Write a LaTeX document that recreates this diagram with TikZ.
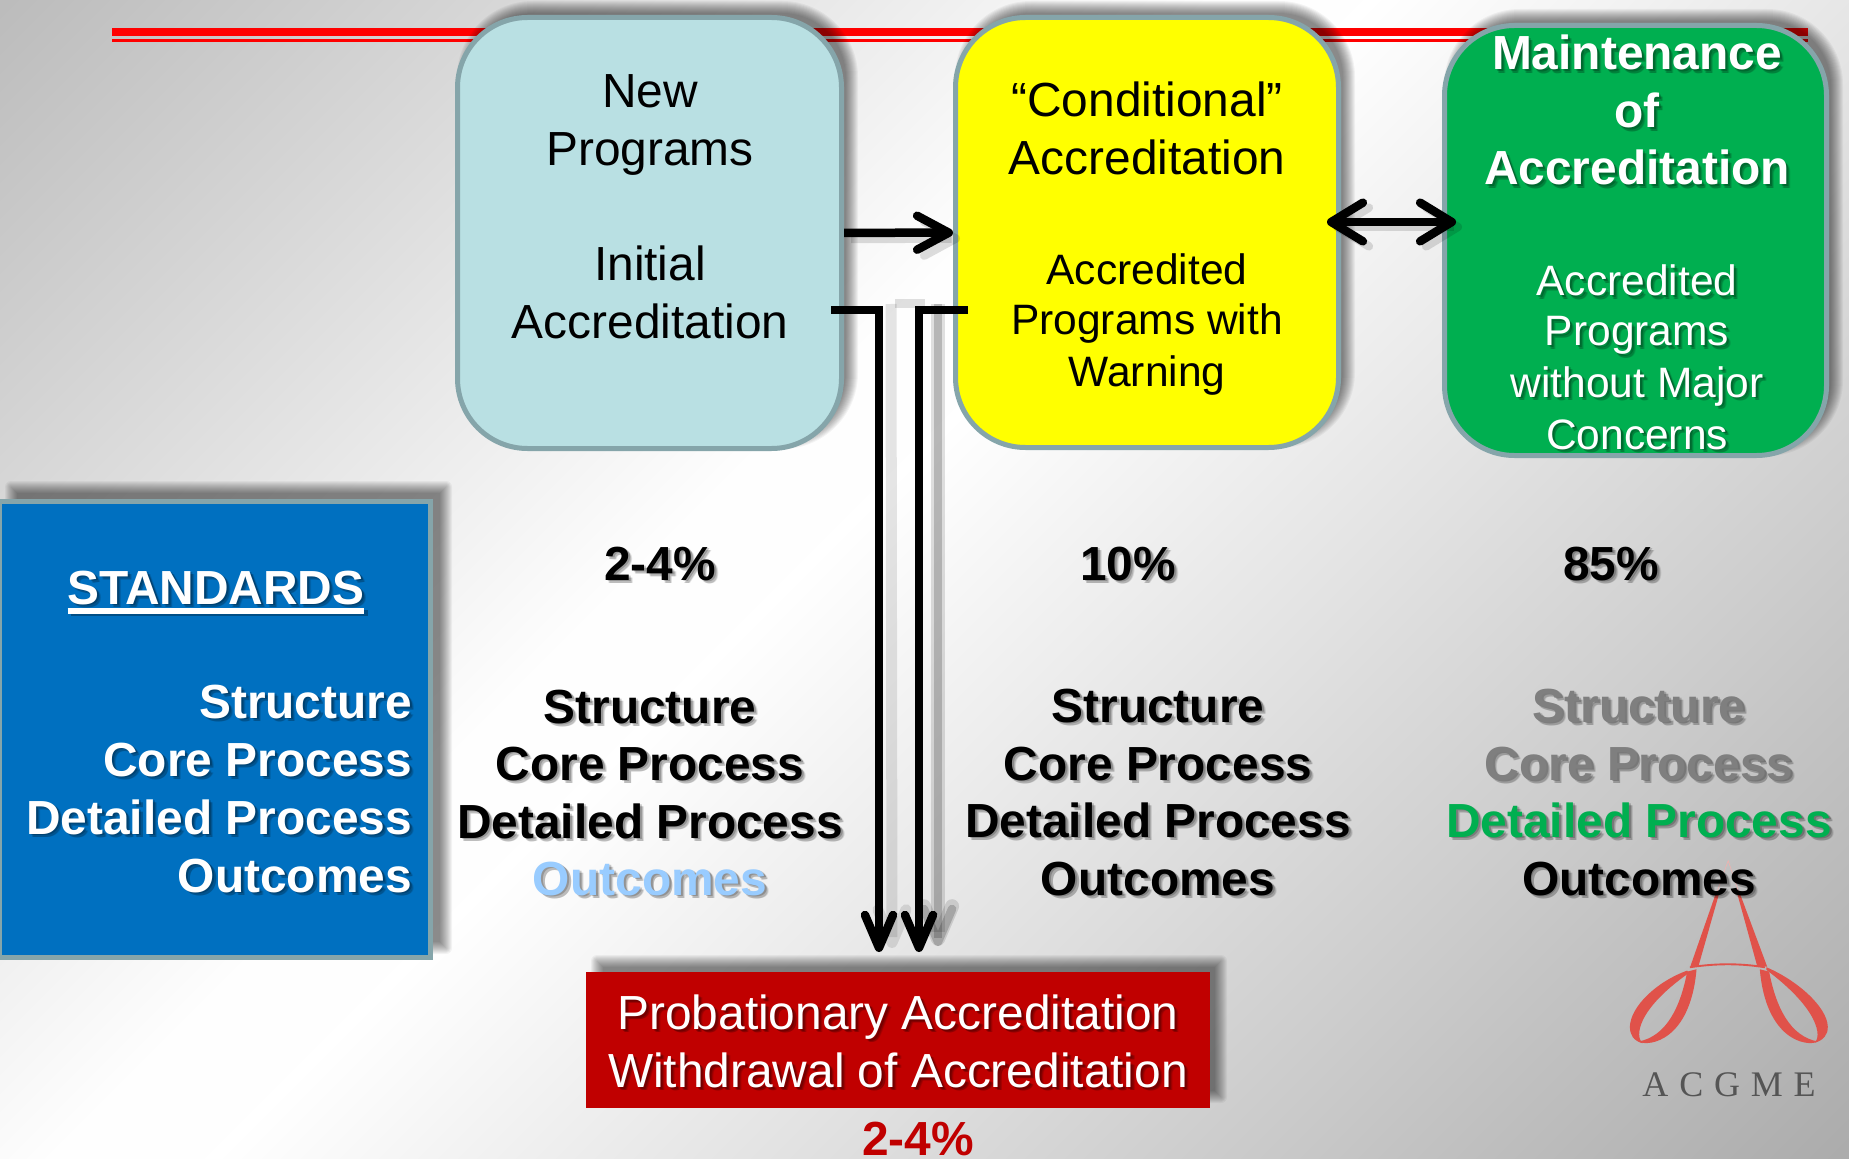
\documentclass[tikz,border=0pt]{standalone}
\usepackage{fontspec}
\setmainfont{Liberation Sans}
\newfontfamily\logofont[LetterSpace=30]{Liberation Serif}
\usetikzlibrary{arrows.meta,calc}
\definecolor{edgeC}{HTML}{85A5AA}
\definecolor{tealC}{HTML}{B9E0E3}
\definecolor{yelC}{RGB}{255,255,0}
\definecolor{greenC}{HTML}{00AF50}
\definecolor{blueC}{HTML}{0070C0}
\definecolor{redC}{HTML}{C00000}
\definecolor{paleC}{HTML}{99CCFF}
\definecolor{grayT}{HTML}{7F7F7F}
\definecolor{logoC}{HTML}{E0524A}
\definecolor{logoT}{HTML}{555555}
\definecolor{ruleC}{RGB}{255,0,0}
\newcommand{\ux}{0.03cm}
\tikzset{
  lbl/.style={inner sep=0pt,outer sep=0pt,anchor=base},
  big/.style={font=\fontsize{40.85}{48}\selectfont},
  bigb/.style={font=\fontsize{40.85}{48}\selectfont\bfseries},
  small/.style={font=\fontsize{36.3}{44}\selectfont},
  panel/.style={draw=edgeC,line width=5*\ux,inner sep=0pt},
  rbox/.style={panel,rounded corners=70*\ux},
  conn/.style={line width=8.5*\ux,line join=miter,
    -{Straight Barb[length=27pt,width=29pt,round]}},
  conndown/.style={line width=8.5*\ux,line join=miter,
    -{Straight Barb[length=28pt,width=24pt,round]}},
  conn2/.style={line width=8.5*\ux,
    {Straight Barb[length=27pt,width=33pt,round]}-{Straight Barb[length=27pt,width=33pt,round]}},
}
% one layer of a soft text shadow (offset in pt, opacity)
\newcommand{\shlayer}[3]{\rlap{\pgfsetfillopacity{#2}\kern#1pt\raisebox{-#1pt}{\textcolor{black}{#3}}\pgfsetfillopacity{1}}}
\newcommand{\shtext}[1]{\leavevmode\shlayer{3.4}{.11}{#1}\shlayer{2.6}{.16}{#1}\shlayer{1.7}{.2}{#1}#1}
% plain line of text
\newcommand{\tl}[5]{\node[lbl,#4] (#1) at (#2,#3) {#5};}
% line of text with a soft drop shadow
\newcommand{\tls}[5]{\node[lbl,#4] (#1) at (#2,#3) {\shtext{#5}};}
% soft box shadow: x1,y1,x2,y2,radius
\newcommand{\softbox}[5]{%
  \foreach \i in {-6,...,6}{%
    \pgfmathsetmacro\rr{max(0,(#5+\i))*0.8536}
    \fill[black,opacity=.045,rounded corners=\rr pt]
      ({#1-\i},{#2-\i}) rectangle ({#3+\i},{#4+\i});}}
\begin{document}
\begin{tikzpicture}[x=\ux,y=-\ux]
\useasboundingbox (0,0) rectangle (1849,1159);
% background: diagonal gradient, grey - white - grey
\begin{scope}
  \clip (0,0) rectangle (1849,1159);
  \begin{scope}[rotate around={-45:(924.5,579.5)}]
    \foreach \k in {0,...,66}{%
      \pgfmathsetmacro\lev{(188+\k)/255}
      \pgfmathsetmacro\tpos{-1063+\k/67*863}
      \definecolor{bgtmp}{gray}{\lev}
      \fill[bgtmp] ({924.5+\tpos-(\k==0)*100},-700) rectangle (2100,1900);}
    \foreach \k in {0,...,84}{%
      \pgfmathsetmacro\lev{(255-\k)/255}
      \pgfmathsetmacro\tpos{-100+\k/84*1163}
      \definecolor{bgtmp}{gray}{\lev}
      \fill[bgtmp] ({924.5+\tpos},-700) rectangle (2100,1900);}
  \end{scope}
\end{scope}
% red rule
\fill[ruleC] (112,28) rectangle (1808,36);
\fill[ruleC] (112,39) rectangle (1808,42);
% shadows of the boxes
\softbox{463}{7}{852}{443}{70}
\softbox{961}{7}{1349}{442}{70}
\softbox{1450}{15}{1837}{450}{70}
\softbox{11}{487}{446}{948}{0}
\softbox{597}{961}{1221}{1097}{0}
% logo
\begin{scope}[shift={(1400,850)},x=0.01cm,y=-0.01cm]
  \draw[logoC!45!white,line width=.5pt] (950,130) -- (985,32) -- (1018,130);
  \fill[logoC] (948,130) -- (872,348) -- (896,348) -- (958,130) -- cycle;
  \fill[logoC] (1012,130) -- (1072,348) -- (1102,350) -- (1020,130) -- cycle;
  \fill[logoC] (862,365) .. controls (842,470) and (800,560) .. (715,575)
     .. controls (750,592) and (872,570) .. (890,358) -- cycle;
  \fill[logoC] (862,362) .. controls (770,395) and (692,470) .. (690,530)
     .. controls (690,555) and (700,572) .. (728,580)
     .. controls (705,560) and (710,480) .. (866,370) -- cycle;
  \fill[logoC] (1108,365) .. controls (1128,470) and (1170,560) .. (1255,575)
     .. controls (1220,592) and (1098,570) .. (1080,358) -- cycle;
  \fill[logoC] (1100,352) .. controls (1190,390) and (1282,470) .. (1284,530)
     .. controls (1285,555) and (1270,572) .. (1245,578)
     .. controls (1265,560) and (1260,480) .. (1100,360) -- cycle;
  \draw[logoC,line width=1.6pt] (870,352) .. controls (950,340) and (1020,340) .. (1095,352);
\end{scope}
\node[lbl,anchor=base,font=\fontsize{30.7}{36}\logofont,text=logoT] (logotext) at (1729,1096) {ACGME};
% panels
\node[rbox,fill=tealC,minimum width=384*\ux,minimum height=431*\ux] (box1) at (649.5,233) {};
\node[rbox,fill=yelC,minimum width=383*\ux,minimum height=430*\ux] (box2) at (1147,232.5) {};
\node[rbox,fill=greenC,minimum width=382*\ux,minimum height=430*\ux] (box3) at (1635.5,240.5) {};
\node[panel,fill=blueC,minimum width=431*\ux,minimum height=456*\ux] (std) at (215,729.5) {};
\node[fill=redC,inner sep=0pt,minimum width=624*\ux,minimum height=136*\ux] (prob) at (898,1040) {};
% connector end points
\coordinate (dl) at (1327,222);
\coordinate (dr) at (1456,222);
\coordinate (pa) at (831,310);
\coordinate (pb) at (968,310);
\coordinate (ta) at (879,952);
\coordinate (tb) at (919,952);
\coordinate (sa) at (878,304);
\coordinate (sb) at (938,304);
% connector shadows
\draw[conndown,black,opacity=.12,line width=14*\ux] (sb) -- ([shift={(19,-6)}]tb);
\draw[conndown,black,opacity=.18] (sb) -- ([shift={(19,-6)}]tb);
\draw[conndown,black,opacity=.1,line width=11*\ux] ([xshift=13*\ux]sa) -- ([shift={(13,-4)}]ta);
\draw[black,opacity=.12,line width=9*\ux] ([xshift=17*\ux]sa) -- ([xshift=-13*\ux]sb);
\draw[conn,black,opacity=.13] ([shift={(7,6)}]box1.east) -- ([shift={(7,6)}]box2.west);
\draw[conn2,black,opacity=.13] ([shift={(6,5)}]dl) -- ([shift={(6,5)}]dr);
% connectors
\draw[conn] (box1) -- (box2);
\draw[conn2] (dl) -- (dr);
\draw[conndown] (pa) -| (ta);
\draw[conndown] (pb) -| (tb);
% box 1
\tl{n1}{650}{108}{big}{New}
\tl{n2}{650}{166}{big}{Programs}
\tl{n3}{650}{281}{big}{Initial}
\tl{n4}{650}{339}{big}{Accreditation}
% box 2
\tl{c1}{1147}{117}{big}{“Conditional”}
\tl{c2}{1147}{175}{big}{Accreditation}
\tl{c3}{1147}{285}{small}{Accredited}
\tl{c4}{1147}{335}{small}{Programs with}
\tl{c5}{1147}{386}{small}{Warning}
% box 3
\tls{m1}{1637}{70}{bigb,text=white}{Maintenance}
\tls{m2}{1637}{128}{bigb,text=white}{of}
\tls{m3}{1637}{185}{bigb,text=white}{Accreditation}
\tls{m4}{1637}{296}{small,text=white}{Accredited}
\tls{m5}{1637}{346}{small,text=white}{Programs}
\tls{m6}{1637}{397}{small,text=white}{without Major}
\tls{m7}{1637}{449}{small,text=white}{Concerns}
% standards
\tls{s0}{216}{604}{bigb,text=white}{STANDARDS}
\draw[black,opacity=.3,line width=6*\ux] ([shift={(3pt,-9*\ux)}]s0.base west) -- ([shift={(3pt,-9*\ux)}]s0.base east);
\draw[white,line width=6*\ux] ([yshift=-7*\ux]s0.base west) -- ([yshift=-7*\ux]s0.base east);
\tls{s1}{412}{718}{bigb,text=white,anchor=base east}{Structure}
\tls{s2}{412}{776}{bigb,text=white,anchor=base east}{Core Process}
\tls{s3}{412}{834}{bigb,text=white,anchor=base east}{Detailed Process}
\tls{s4}{412}{892}{bigb,text=white,anchor=base east}{Outcomes}
% percentages
\tls{p1}{660}{580}{bigb}{2-4\%}
\tls{p2}{1128}{580}{bigb}{10\%}
\tls{p3}{1611}{580}{bigb}{85\%}
% column 1
\tls{a1}{650}{723}{bigb}{Structure}
\tls{a2}{650}{780}{bigb}{Core Process}
\tls{a3}{650}{838}{bigb}{Detailed Process}
\tls{a4}{650}{895}{bigb,text=paleC}{Outcomes}
% column 2
\tls{b1}{1158}{722}{bigb}{Structure}
\tls{b2}{1158}{780}{bigb}{Core Process}
\tls{b3}{1158}{837}{bigb}{Detailed Process}
\tls{b4}{1158}{895}{bigb}{Outcomes}
% column 3
\tls{d1}{1639}{722}{bigb,text=grayT}{Structure}
\tls{d2}{1639}{780}{bigb,text=grayT}{Core Process}
\tls{d3}{1639}{837}{bigb,text=greenC}{Detailed Process}
\tls{d4}{1639}{895}{bigb}{Outcomes}
% probation box
\tls{r1}{898}{1029}{big,text=white}{Probationary Accreditation}
\tls{r2}{898}{1087}{big,text=white}{Withdrawal of Accreditation}
\tl{r3}{918}{1155}{bigb,text=redC}{2-4\%}
\end{tikzpicture}
\end{document}
